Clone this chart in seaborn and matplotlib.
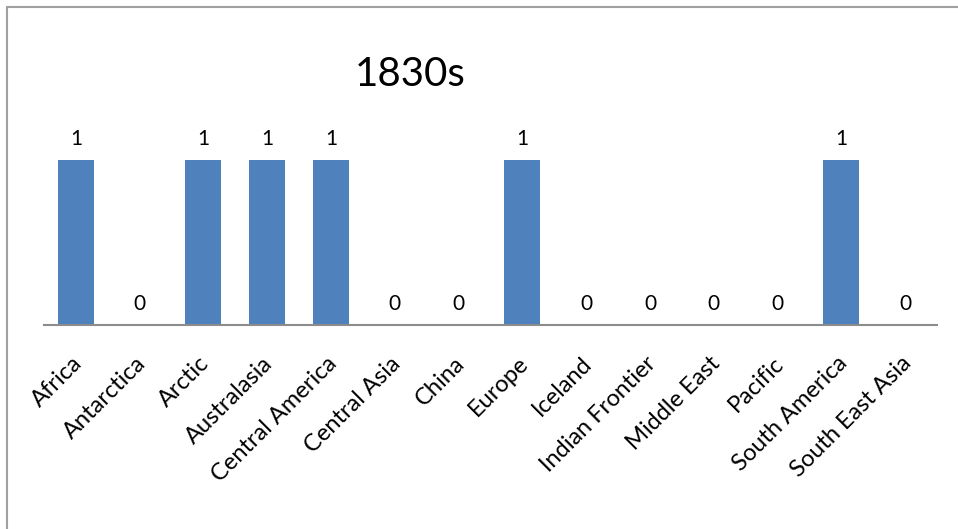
import pandas as pd
import matplotlib.pyplot as plt
import matplotlib.transforms as mtrans
import seaborn as sns
from matplotlib.lines import Line2D

# data
regions = [
    "Africa", "Antarctica", "Arctic", "Australasia", "Central America",
    "Central Asia", "China", "Europe", "Iceland", "Indian Frontier",
    "Middle East", "Pacific", "South America", "South East Asia",
]
counts = [1, 0, 1, 1, 1, 0, 0, 1, 0, 0, 0, 0, 1, 0]
title = "1830s"

df = pd.DataFrame({"region": regions, "count": counts})

sns.set_style("white")
plt.rcParams['font.family'] = ['Lato', 'DejaVu Sans']
plt.rcParams['text.color'] = 'black'
plt.rcParams['xtick.color'] = 'black'

fig = plt.figure(figsize=(9.58, 5.29), dpi=100)
ax = fig.add_axes([44 / 958, 1 - 325 / 529, (937 - 44) / 958, (325 - 127) / 529])

sns.barplot(x="region", y="count", data=df, ax=ax, color="#4F81BD",
            saturation=1, width=0.565, edgecolor="none")

ax.set_ylim(0, 1.2)
ax.set_xlim(-0.5, len(regions) - 0.5)
for c in ax.containers:
    ax.bar_label(c, labels=[str(v) for v in counts], padding=8, fontsize=15, color="black")

# axes styling (excel look)
for s in ["top", "right", "left"]:
    ax.spines[s].set_visible(False)
ax.spines["bottom"].set_color("#8c8c8c")
ax.spines["bottom"].set_linewidth(1.5)
ax.set_yticks([])
ax.set_xlabel("")
ax.set_ylabel("")
ax.tick_params(axis="x", length=0, pad=20, labelcolor="black")
shift = mtrans.ScaledTranslation(-5 / 100, 0, fig.dpi_scale_trans)
for lbl in ax.get_xticklabels():
    lbl.set_rotation(45)
    lbl.set_ha("right")
    lbl.set_rotation_mode("anchor")
    lbl.set_fontsize(17)
    lbl.set_transform(lbl.get_transform() + shift)

fig.text(410 / 958, 1 - 75 / 529, title, ha="center", va="center", fontsize=29, color="black")

# chart border (left and top visible)
bx, by = 6.5 / 958, 1 - 6.5 / 529
fig.add_artist(Line2D([bx, bx], [0, by], transform=fig.transFigure, color="#a0a0a0", lw=1.5))
fig.add_artist(Line2D([bx, 1], [by, by], transform=fig.transFigure, color="#a0a0a0", lw=1.5))

plt.savefig("out.png", dpi=100)
